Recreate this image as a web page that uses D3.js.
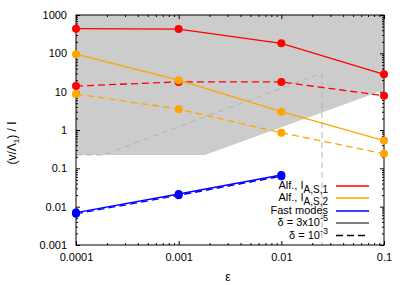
<!DOCTYPE html>
<html>
<head>
<meta charset="utf-8">
<script src="https://cdn.jsdelivr.net/npm/d3@7"></script>
<style>
  body { margin: 0; background: #fff; }
  text { font-family: "Liberation Sans", Arial, sans-serif; }
</style>
</head>
<body>
<div id="chart"></div>
<script>
// values
let epsValues = [0.0001, 0.001, 0.01, 0.1];
let alf1Solid = [440, 430, 183, 28.4];
let alf1Dashed = [14, 18, 18, 7.8];
let alf2Solid = [95, 20, 3.0, 0.53];
let alf2Dashed = [8.7, 3.5, 0.85, 0.24];
let fastEps = [0.0001, 0.001, 0.01];
let fastSolid = [0.0070, 0.0214, 0.067];
let fastDashed = [0.0065, 0.0198, 0.062];

// shaded region (lower edge) and grey dashed boundary
let regionEps = [0.0001, 0.0018, 0.1];
let regionLow = [0.223, 0.223, 11];
let boundaryEps = [0.0001, 0.000183, 0.0249, 0.0249];
let boundaryVal = [0.223, 0.223, 30.7, 0.001];

let xTicks = [0.0001, 0.001, 0.01, 0.1];
let xTickLabels = ["0.0001", "0.001", "0.01", "0.1"];
let yTicks = [0.001, 0.01, 0.1, 1, 10, 100, 1000];
let yTickLabels = ["0.001", "0.01", "0.1", "1", "10", "100", "1000"];

var margin = { top: 15, right: 23, bottom: 40, left: 76 };
let width = 407 - margin.left - margin.right;
let height = 285 - margin.top - margin.bottom;

var svg = d3.select("#chart")
    .append("svg")
    .attr("width", 407)
    .attr("height", 285)
    .append("g")
    .attr("transform", "translate(" + margin.left + "," + margin.top + ")");

var x = d3.scaleLog().domain([0.0001, 0.1]).range([0, width]);
var y = d3.scaleLog().domain([0.001, 1000]).range([height, 0]);

function minors(lo, hi) {
    let out = [];
    for (let d = lo; d < hi; d *= 10) {
        for (let k = 2; k <= 9; k++) out.push(d * k);
    }
    return out;
}

// grey shaded region
let regionPts = regionEps.map((e, i) => [e, regionLow[i]]);
let area = [[0.0001, 1000], [0.1, 1000]].concat(regionPts.slice().reverse());
svg.append("path")
    .attr("d", d3.line().x(d => x(d[0])).y(d => y(d[1]))(area) + "Z")
    .attr("fill", "#cccccc");

svg.append("path")
    .attr("d", d3.line().x((d, i) => x(boundaryEps[i])).y(d => y(d))(boundaryVal))
    .attr("fill", "none")
    .attr("stroke", "#b4b4b4")
    .attr("stroke-width", 1)
    .attr("stroke-dasharray", "6,4");

// axes with inward ticks on all four sides
function styleAxis(g) {
    g.selectAll("text").style("font-size", "11px").attr("fill", "#000");
    g.select(".domain").remove();
    g.selectAll("line").attr("stroke", "#000");
}

svg.append("g").attr("transform", "translate(0," + height + ")")
    .call(d3.axisBottom(x).tickValues(xTicks).tickSizeInner(-4).tickSizeOuter(0).tickPadding(8)
        .tickFormat((d, i) => xTickLabels[i]))
    .call(styleAxis);
svg.append("g").attr("transform", "translate(0," + height + ")")
    .call(d3.axisBottom(x).tickValues(minors(0.0001, 0.1)).tickSizeInner(-2).tickSizeOuter(0).tickFormat(""))
    .call(styleAxis);
svg.append("g")
    .call(d3.axisTop(x).tickValues(xTicks).tickSizeInner(-4).tickSizeOuter(0).tickFormat(""))
    .call(styleAxis);
svg.append("g")
    .call(d3.axisTop(x).tickValues(minors(0.0001, 0.1)).tickSizeInner(-2).tickSizeOuter(0).tickFormat(""))
    .call(styleAxis);

svg.append("g")
    .call(d3.axisLeft(y).tickValues(yTicks).tickSizeInner(-4).tickSizeOuter(0).tickPadding(9)
        .tickFormat((d, i) => yTickLabels[i]))
    .call(styleAxis);
svg.append("g")
    .call(d3.axisLeft(y).tickValues(minors(0.001, 1000)).tickSizeInner(-2).tickSizeOuter(0).tickFormat(""))
    .call(styleAxis);
svg.append("g").attr("transform", "translate(" + width + ",0)")
    .call(d3.axisRight(y).tickValues(yTicks).tickSizeInner(-4).tickSizeOuter(0).tickFormat(""))
    .call(styleAxis);
svg.append("g").attr("transform", "translate(" + width + ",0)")
    .call(d3.axisRight(y).tickValues(minors(0.001, 1000)).tickSizeInner(-2).tickSizeOuter(0).tickFormat(""))
    .call(styleAxis);

svg.append("rect")
    .attr("width", width).attr("height", height)
    .attr("fill", "none").attr("stroke", "#000").attr("stroke-width", 1);

// axis titles
svg.append("text")
    .attr("x", width / 2 - 2).attr("y", height + 36)
    .attr("text-anchor", "middle").style("font-size", "12px")
    .text("ε");

let yTitle = svg.append("text")
    .attr("transform", "translate(" + (16 - margin.left) + "," + (height / 2 + 13) + ") rotate(-90)")
    .attr("text-anchor", "middle").style("font-size", "12px");
yTitle.append("tspan").text("(v/Λ");
yTitle.append("tspan").attr("dy", 3).style("font-size", "8px").text("1");
yTitle.append("tspan").attr("dy", -3).text(") / I");

// series
let series = [
    { eps: epsValues, vals: alf1Dashed, color: "#ff0000", dash: "7,4" },
    { eps: epsValues, vals: alf1Solid, color: "#ff0000", dash: null },
    { eps: epsValues, vals: alf2Dashed, color: "#ffa500", dash: "7,4" },
    { eps: epsValues, vals: alf2Solid, color: "#ffa500", dash: null },
    { eps: fastEps, vals: fastDashed, color: "#0000ff", dash: "7,4" },
    { eps: fastEps, vals: fastSolid, color: "#0000ff", dash: null }
];

series.forEach(function (s) {
    svg.append("path")
        .attr("d", d3.line().x((d, i) => x(s.eps[i])).y(d => y(d))(s.vals))
        .attr("fill", "none")
        .attr("stroke", s.color)
        .attr("stroke-width", 1.3)
        .attr("stroke-dasharray", s.dash);
    svg.selectAll(null)
        .data(s.vals)
        .enter()
        .append("circle")
        .attr("cx", (d, i) => x(s.eps[i]))
        .attr("cy", d => y(d))
        .attr("r", 4)
        .attr("fill", s.color);
});

// legend
let legend = svg.append("g").attr("transform", "translate(" + (328 - margin.left) + "," + (186 - margin.top) + ")");
let legendRows = [
    { main: "Alf., I", sub: "A,S,1", color: "#ff0000", dash: null },
    { main: "Alf., I", sub: "A,S,2", color: "#ffa500", dash: null },
    { main: "Fast modes", color: "#0000ff", dash: null },
    { main: "δ = 3x10", sup: "-5", color: "#555555", dash: null },
    { main: "δ = 10", sup: "-3", color: "#000000", dash: "7,4" }
];
let rowY = [0, 12, 25, 37, 49.5];

legendRows.forEach(function (r, i) {
    let t = legend.append("text")
        .attr("x", 0).attr("y", rowY[i] + 3)
        .attr("text-anchor", "end").style("font-size", "11px");
    t.append("tspan").text(r.main);
    if (r.sub) t.append("tspan").attr("dy", 4).style("font-size", "10px").text(r.sub);
    if (r.sup) t.append("tspan").attr("dy", -5).style("font-size", "9px").text(r.sup);
    legend.append("line")
        .attr("x1", 8).attr("x2", 41)
        .attr("y1", rowY[i]).attr("y2", rowY[i])
        .attr("stroke", r.color)
        .attr("stroke-width", 1.3)
        .attr("stroke-dasharray", r.dash);
});
</script>
</body>
</html>
